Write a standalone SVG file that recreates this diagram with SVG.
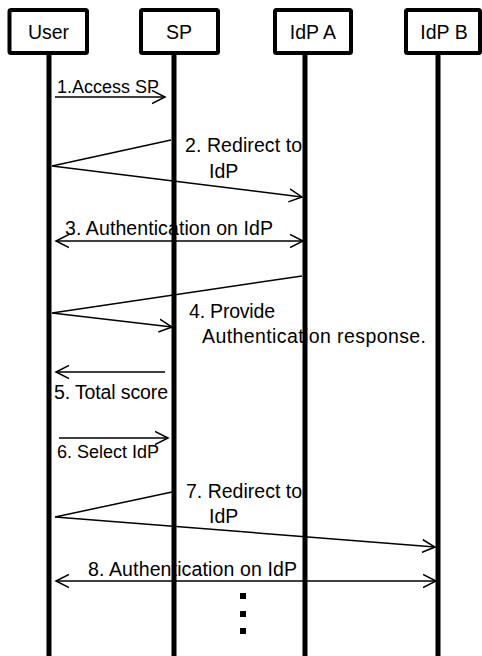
<svg xmlns="http://www.w3.org/2000/svg" width="482" height="656" viewBox="0 0 482 656">
  <style>
    .box { fill: #ffffff; stroke: #000000; stroke-width: 4; }
    .life { stroke: #000000; stroke-width: 5; }
    .t { font-family: "Liberation Sans", Arial, sans-serif; font-size: 19.5px; fill: #000000; }
    .s { font-size: 18px; }
    .msg { fill: none; stroke: #000000; stroke-width: 1.5; }
    .end { marker-end: url(#arr); }
    .both { marker-end: url(#arr); marker-start: url(#arr); }
  </style>
  <defs>
    <marker id="arr" markerUnits="userSpaceOnUse" markerWidth="16" markerHeight="16" refX="13" refY="7" orient="auto-start-reverse" viewBox="0 0 16 14">
      <path d="M0,0.5 L13,7 L0,13.5" fill="none" stroke="#000000" stroke-width="1.5"/>
    </marker>
  </defs>
  <rect width="482" height="656" fill="#ffffff"/>

  <g id="connectors">
    <g id="m1">
      <text class="t s" x="57" y="93">1.Access SP</text>
      <line class="msg end" x1="55" y1="97" x2="165" y2="97"/>
    </g>
    <g id="m2">
      <text class="t" x="185" y="152" textLength="117" lengthAdjust="spacing">2. Redirect to</text>
      <text class="t" x="209" y="178">IdP</text>
      <polyline class="msg end" points="171,140 52,166 302,197"/>
    </g>
    <g id="m3">
      <text class="t" x="65" y="235" textLength="208" lengthAdjust="spacing">3. Authentication on IdP</text>
      <line class="msg both" x1="56" y1="241" x2="303" y2="241"/>
    </g>
    <g id="m4">
      <text class="t" x="189" y="318" textLength="86" lengthAdjust="spacing">4. Provide</text>
      <text class="t" x="202" y="343" textLength="224" lengthAdjust="spacing">Authentication response.</text>
      <polyline class="msg end" points="302,276 52,313 172,327"/>
    </g>
    <g id="m5">
      <line class="msg end" x1="165" y1="372" x2="56" y2="372"/>
      <text class="t" x="54" y="399" textLength="114" lengthAdjust="spacing">5. Total score</text>
    </g>
    <g id="m6">
      <line class="msg end" x1="59" y1="438" x2="168" y2="438"/>
      <text class="t s" x="57" y="458">6. Select IdP</text>
    </g>
    <g id="m7">
      <text class="t" x="186" y="498" textLength="116" lengthAdjust="spacing">7. Redirect to</text>
      <text class="t" x="209" y="523">IdP</text>
      <polyline class="msg end" points="172,492 55,517 435,547"/>
    </g>
    <g id="m8">
      <text class="t" x="88" y="576" textLength="209" lengthAdjust="spacing">8. Authentication on IdP</text>
      <line class="msg both" x1="56" y1="581" x2="436" y2="581"/>
    </g>
  </g>

  <g id="user">
    <line class="life" x1="49" y1="53" x2="49" y2="656"/>
    <rect class="box" x="9.5" y="10" width="77.5" height="43" rx="1.5"/>
    <text class="t" x="48.5" y="39" text-anchor="middle">User</text>
  </g>
  <g id="sp">
    <line class="life" x1="174" y1="53" x2="174" y2="656"/>
    <rect class="box" x="141" y="10" width="77" height="43" rx="1.5"/>
    <text class="t" x="179" y="39" text-anchor="middle">SP</text>
  </g>
  <g id="idpa">
    <line class="life" x1="305" y1="53" x2="305" y2="656"/>
    <rect class="box" x="275" y="10" width="76" height="43" rx="1.5"/>
    <text class="t" x="313" y="39" text-anchor="middle">IdP A</text>
  </g>
  <g id="idpb">
    <line class="life" x1="438" y1="53" x2="438" y2="656"/>
    <rect class="box" x="406" y="10" width="74" height="43" rx="1.5"/>
    <text class="t" x="444" y="39" text-anchor="middle">IdP B</text>
  </g>

  <g id="dots">
    <rect x="240" y="593" width="6" height="6" fill="#000000"/>
    <rect x="240" y="611" width="6" height="6" fill="#000000"/>
    <rect x="240" y="628" width="6" height="6" fill="#000000"/>
  </g>
</svg>
